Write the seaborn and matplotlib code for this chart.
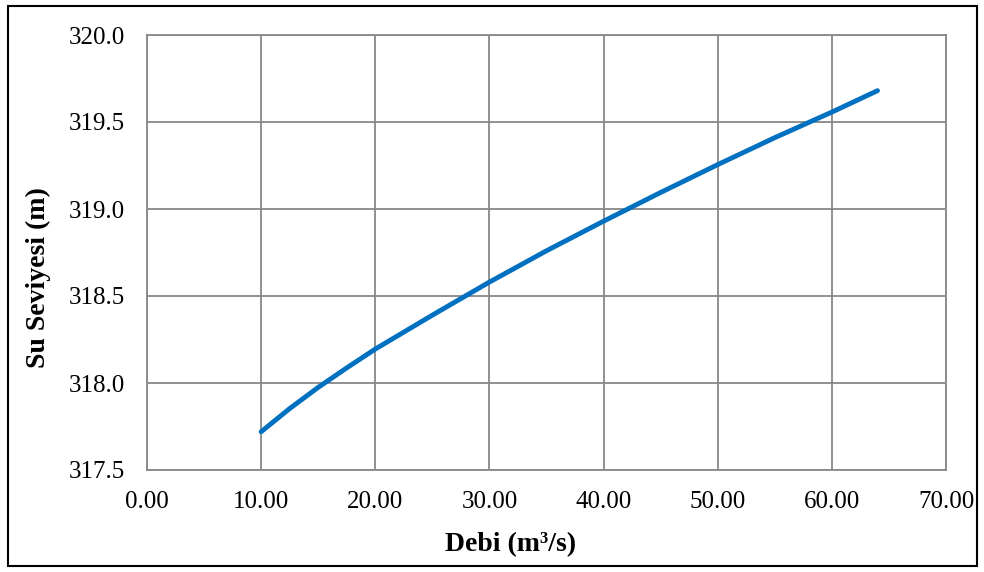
import matplotlib
matplotlib.use("Agg")
import matplotlib.pyplot as plt
import seaborn as sns
import pandas as pd
from matplotlib.patches import Rectangle

# Data
debi = [10, 12.5, 15, 17.5, 20, 25, 30, 35, 40, 45, 50, 55, 60, 64]
seviye = [317.72, 317.853, 317.975, 318.087, 318.195, 318.39, 318.58, 318.76, 318.93,
          319.095, 319.255, 319.41, 319.557, 319.68]
x_ticks = [0, 10, 20, 30, 40, 50, 60, 70]
y_ticks = [317.5, 318.0, 318.5, 319.0, 319.5, 320.0]

df = pd.DataFrame({"Debi": debi, "Seviye": seviye})

sns.set_theme(style="white")
plt.rcParams["font.family"] = ["Liberation Serif", "DejaVu Serif"]

fig = plt.figure(figsize=(9.84, 5.72), dpi=100)
ax = fig.add_axes([147/984, 1-470/572, (946-147)/984, (470-35)/572])

sns.lineplot(data=df, x="Debi", y="Seviye", ax=ax, color="#0070C0",
             linewidth=3.5, solid_capstyle="round", solid_joinstyle="round", zorder=3)

ax.set_xlim(0, 70)
ax.set_ylim(317.5, 320.0)
ax.set_xticks(x_ticks)
ax.set_yticks(y_ticks)
ax.set_xticklabels([f"{v:.2f}" for v in x_ticks])
ax.set_yticklabels([f"{v:.1f}" for v in y_ticks])
ax.tick_params(axis="both", length=0, labelsize=18, colors="black")
ax.tick_params(axis="x", pad=15)
ax.tick_params(axis="y", pad=16)

ax.grid(True, color="#888888", linewidth=1.3)
for s in ax.spines.values():
    s.set_color("#888888")
    s.set_linewidth(1.3)

ax.set_xlabel("")
ax.set_ylabel("")
fig.text(511/984, 1-545/572, "Debi (m³/s)", ha="center", va="center",
         fontsize=20, fontweight="bold", color="black")
fig.text(38/984, 1-278/572, "Su Seviyesi (m)", ha="center", va="center",
         rotation=90, fontsize=20, fontweight="bold", color="black")

fig.patches.append(Rectangle((8/984, 1-566/572), (977-8)/984, (566-6)/572,
                             transform=fig.transFigure, fill=False,
                             edgecolor="black", linewidth=1.5))

fig.savefig("out.png", dpi=100)
